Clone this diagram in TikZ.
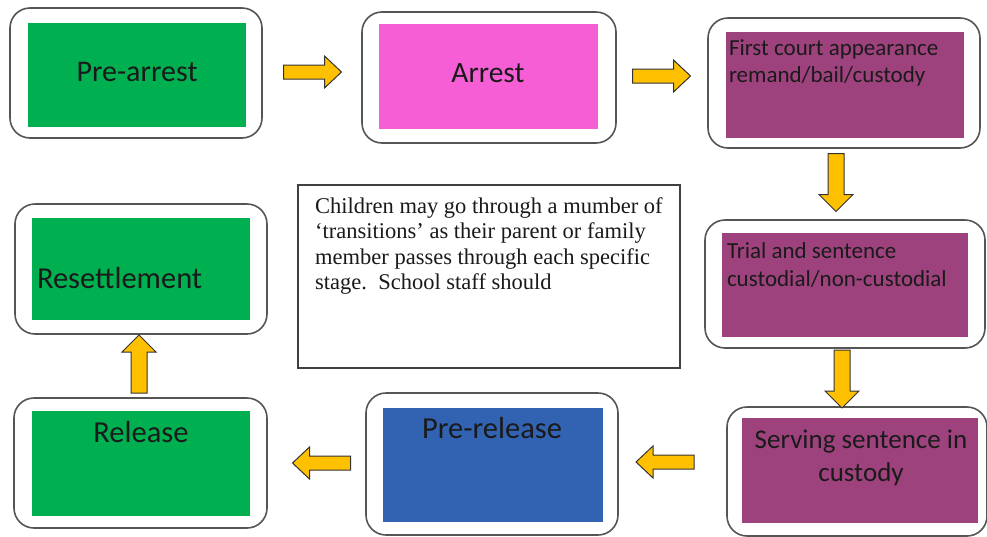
\documentclass[tikz,border=0pt]{standalone}
\usepackage{fontspec}
\setmainfont{Liberation Serif}
\newfontfamily\calib{Carlito}
\definecolor{stgreen}{HTML}{00B050}
\definecolor{stpink}{HTML}{F55ED5}
\definecolor{stpurple}{HTML}{9E427E}
\definecolor{stblue}{HTML}{3263B2}
\definecolor{stgold}{HTML}{FFC000}
\definecolor{stedge}{HTML}{555555}
\definecolor{sttext}{HTML}{1A1A1A}
\tikzset{
  outerbox/.style={draw=stedge, line width=1.6pt, rounded corners=20pt, fill=white, inner sep=0pt, outer sep=0pt},
  innerbox/.style={inner sep=0pt, outer sep=0pt},
  lbl/.style={inner sep=0pt, outer sep=0pt, text=sttext, font=\calib\fontsize{30}{32}\selectfont},
  smalllbl/.style={inner sep=0pt, outer sep=0pt, text=sttext, align=left, font=\calib\fontsize{23}{27}\selectfont},
  arrowstyle/.style={fill=stgold, draw=black!80, line width=1pt, line join=miter},
  harrow/.pic={\draw[arrowstyle] (-29,-7) -- (12,-7) -- (12,-16) -- (29,0) -- (12,16) -- (12,7) -- (-29,7) -- cycle;},
  varrow/.pic={\draw[arrowstyle] (-8,-29) -- (-8,12) -- (-17,12) -- (0,29) -- (17,12) -- (8,12) -- (8,-29) -- cycle;}
}
\begin{document}
\begin{tikzpicture}[x=1pt,y=-1pt]
\useasboundingbox (0,0) rectangle (987,536);
\fill[white] (0,0) rectangle (987,536);

% Pre-arrest
\node[outerbox, minimum width=252pt, minimum height=130pt] (o1) at (136,73) {};
\node[innerbox, fill=stgreen, minimum width=218pt, minimum height=104pt] (i1) at (137,75) {};
\node[lbl] (t1) at (137,72) {Pre-arrest};

% Arrest
\node[outerbox, minimum width=254pt, minimum height=131pt] (o2) at (489,77.5) {};
\node[innerbox, fill=stpink, minimum width=219pt, minimum height=105pt] (i2) at (488.5,76.5) {};
\node[lbl, font=\calib\fontsize{29.5}{32}\selectfont] (t2) at (488,73) {Arrest};

% First court appearance
\node[outerbox, minimum width=272pt, minimum height=130pt] (o3) at (844,83) {};
\node[innerbox, fill=stpurple, minimum width=238pt, minimum height=106pt] (i3) at (845,85) {};
\node[smalllbl, anchor=north west] (t3) at (729,40) {First court appearance\\remand/bail/custody};

% Trial and sentence
\node[outerbox, minimum width=280pt, minimum height=128pt] (o4) at (845,284) {};
\node[innerbox, fill=stpurple, minimum width=246pt, minimum height=104pt] (i4) at (845,285) {};
\node[smalllbl, anchor=north west, font=\calib\fontsize{23}{28}\selectfont] (t4) at (727,243) {Trial and sentence\\custodial/non-custodial};

% Serving sentence in custody
\node[outerbox, minimum width=260pt, minimum height=129pt] (o5) at (857,471.5) {};
\node[innerbox, fill=stpurple, minimum width=236pt, minimum height=105pt] (i5) at (860,470.5) {};
\node[lbl, align=center, anchor=north, font=\calib\fontsize{27}{33}\selectfont] (t5) at (861,430) {Serving sentence in\\custody};

% Pre-release
\node[outerbox, minimum width=252pt, minimum height=142pt] (o6) at (492,464) {};
\node[innerbox, fill=stblue, minimum width=220pt, minimum height=114pt] (i6) at (493,465) {};
\node[lbl, font=\calib\fontsize{30.5}{32}\selectfont] (t6) at (492,428) {Pre-release};

% Release
\node[outerbox, minimum width=253pt, minimum height=130pt] (o7) at (140.5,463) {};
\node[innerbox, fill=stgreen, minimum width=218pt, minimum height=105pt] (i7) at (141,463.5) {};
\node[lbl, font=\calib\fontsize{30.5}{32}\selectfont] (t7) at (141,432) {Release};

% Resettlement
\node[outerbox, minimum width=252pt, minimum height=130pt] (o8) at (141,269) {};
\node[innerbox, fill=stgreen, minimum width=218pt, minimum height=102pt] (i8) at (141,269) {};
\node[lbl, anchor=west, font=\calib\fontsize{30.5}{32}\selectfont] (t8) at (37,278) {Resettlement};

% Text box
\node[draw=black!75, line width=1.8pt, minimum width=382pt, minimum height=183pt, inner sep=0pt] (note) at (489,276.5) {};
\node[anchor=north west, inner sep=0pt, align=left, text=sttext, font=\fontsize{22.5}{25.5}\selectfont] (notetext) at (315,197) {Children may go through a mumber of\\‘transitions’ as their parent or family\\member passes through each specific\\stage.\ \ School staff should};

% Block arrows
\pic at (312.5,72) {harrow};
\pic at (661.5,76) {harrow};
\pic at (836,182.5) {varrow};
\pic at (842,379) {varrow};
\pic[xscale=-1] at (665,462) {harrow};
\pic[xscale=-1] at (321.5,463) {harrow};
\pic[yscale=-1] at (139,364) {varrow};
\end{tikzpicture}
\end{document}
